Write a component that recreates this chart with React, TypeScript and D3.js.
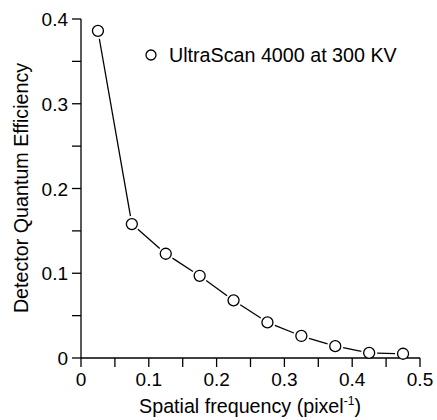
import React from 'react';
import * as d3 from 'd3';

const freq = [0.025, 0.075, 0.125, 0.175, 0.225, 0.275, 0.325, 0.375, 0.425, 0.475];
const dqe = [0.386, 0.158, 0.123, 0.097, 0.068, 0.042, 0.026, 0.014, 0.006, 0.005];
const xTicks = [0, 0.1, 0.2, 0.3, 0.4, 0.5];
const yTicks = [0, 0.1, 0.2, 0.3, 0.4];
const seriesName = 'UltraScan 4000 at 300 KV';

const width = 437;
const height = 420;
const font = '"Liberation Sans", Arial, sans-serif';

export default function App() {
  const x = d3.scaleLinear().domain([0, 0.5]).range([81, 420]);
  const y = d3.scaleLinear().domain([0, 0.4]).range([358, 19]);
  const r = 5.5;
  const gap = r + 2.5;
  const fs = 19;
  const fsTitle = 19.7;

  const pts = freq.map((f, i) => [x(f), y(dqe[i])]);
  const segs = d3.pairs(pts).map(([a, b]) => {
    const dx = b[0] - a[0], dy = b[1] - a[1];
    const len = Math.hypot(dx, dy);
    const ux = dx / len, uy = dy / len;
    return [a[0] + ux * gap, a[1] + uy * gap, b[0] - ux * gap, b[1] - uy * gap];
  });

  const minorX = d3.range(0, 0.5001, 0.05);
  const minorY = d3.range(0, 0.4001, 0.05);
  const tickLen = 9;

  return (
    <svg width={width} height={height} style={{ position: 'absolute', left: 0, top: 0 }} fontFamily={font}>
      <rect width={width} height={height} fill="#fff" />
      {/* axes */}
      <line x1={x(0)} x2={x(0.5)} y1={y(0)} y2={y(0)} stroke="#000" strokeWidth={1.3} />
      <line x1={x(0)} x2={x(0)} y1={y(0)} y2={y(0.4)} stroke="#000" strokeWidth={1.3} />
      {minorX.map((t, i) => (
        <line key={'xt' + i} x1={x(t)} x2={x(t)} y1={y(0)} y2={y(0) + tickLen} stroke="#000" strokeWidth={1.3} />
      ))}
      {minorY.map((t, i) => (
        <line key={'yt' + i} x1={x(0)} x2={x(0) - tickLen} y1={y(t)} y2={y(t)} stroke="#000" strokeWidth={1.3} />
      ))}
      {xTicks.map((t) => (
        <text key={'xl' + t} x={x(t)} y={386} textAnchor="middle" fontSize={fs}>
          {t === 0 ? '0' : t.toFixed(1)}
        </text>
      ))}
      {yTicks.map((t) => (
        <text key={'yl' + t} x={68} y={y(t) + 7} textAnchor="end" fontSize={fs}>
          {t === 0 ? '0' : t.toFixed(1)}
        </text>
      ))}
      <text x={250} y={413} textAnchor="middle" fontSize={fsTitle}>
        Spatial frequency (pixel<tspan dy={-8} fontSize={12}>-1</tspan><tspan dy={8}>)</tspan>
      </text>
      <text transform="translate(28,188) rotate(-90)" textAnchor="middle" fontSize={fsTitle}>
        Detector Quantum Efficiency
      </text>
      {/* series */}
      {segs.map((s, i) => (
        <line key={'s' + i} x1={s[0]} y1={s[1]} x2={s[2]} y2={s[3]} stroke="#000" strokeWidth={1.3} />
      ))}
      {pts.map((p, i) => (
        <circle key={'p' + i} cx={p[0]} cy={p[1]} r={r} fill="#fff" stroke="#000" strokeWidth={1.3} />
      ))}
      {/* legend */}
      <circle cx={151} cy={55} r={5} fill="#fff" stroke="#000" strokeWidth={1.3} />
      <text x={169} y={61.5} fontSize={fsTitle}>{seriesName}</text>
    </svg>
  );
}
